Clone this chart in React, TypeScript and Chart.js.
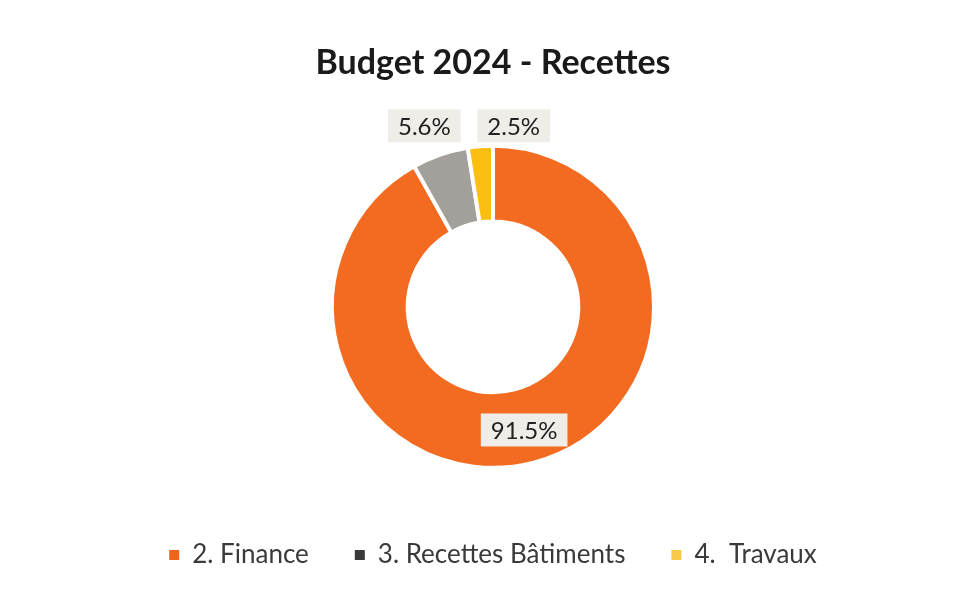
import React, { useEffect, useRef } from "react";
import { Chart, registerables } from "chart.js";

Chart.register(...registerables);

const categories = ["2. Finance", "3. Recettes Bâtiments", "4.  Travaux"];
const shares = [91.5, 5.6, 2.5];
const sliceColors = ["#F36B21", "#A3A09B", "#FDBE12"];
const legendMarkerColors = ["#F0651E", "#3A3A3A", "#F8C94A"];
const valueLabels = ["91.5%", "5.6%", "2.5%"];
const chartTitle = "Budget 2024 - Recettes";

const FONT = "Lato, 'Open Sans', 'DejaVu Sans', sans-serif";

const labelPlugin = {
  id: "valueLabels",
  afterDatasetsDraw(chart: any) {
    const ctx = chart.ctx;
    const meta = chart.getDatasetMeta(0);
    ctx.save();
    ctx.font = `24px ${FONT}`;
    ctx.textAlign = "center";
    ctx.textBaseline = "middle";
    meta.data.forEach((arc: any, i: number) => {
      const p = arc.getProps(["x", "y", "startAngle", "endAngle", "innerRadius", "outerRadius"], true);
      const mid = (p.startAngle + p.endAngle) / 2;
      let cx: number;
      let cy: number;
      if (i === 0) {
        const r = (p.innerRadius + p.outerRadius) / 2;
        cx = p.x + Math.cos(mid) * r;
        cy = p.y + Math.sin(mid) * r + 4;
      } else {
        const r = p.outerRadius + 33;
        cx = p.x + Math.cos(mid) * r + (i === 2 ? 36 : -5);
        cy = p.y - p.outerRadius - 20;
      }
      const text = valueLabels[i];
      const w = ctx.measureText(text).width + 20;
      const h = 33;
      ctx.fillStyle = "#EEEDE8";
      ctx.fillRect(cx - w / 2, cy - h / 2, w, h);
      ctx.fillStyle = "#222222";
      ctx.fillText(text, cx, cy + 1);
    });
    ctx.restore();
  },
};

export default function App() {
  const ref = useRef<HTMLCanvasElement | null>(null);
  useEffect(() => {
    if (!ref.current) return;
    const chart = new Chart(ref.current, {
      type: "doughnut",
      data: {
        labels: categories,
        datasets: [
          {
            data: shares,
            backgroundColor: sliceColors,
            borderColor: "#FFFFFF",
            borderWidth: 4,
            hoverOffset: 0,
          },
        ],
      },
      options: {
        animation: false,
        responsive: true,
        maintainAspectRatio: false,
        cutout: "53%",
        layout: { padding: { left: 26, right: 0, top: 0, bottom: 11 } },
        plugins: {
          tooltip: { enabled: false },
          title: {
            display: true,
            text: chartTitle,
            color: "#1A1A1A",
            font: { family: FONT, size: 34, weight: "bold" },
            padding: { top: 43, bottom: 60 },
          },
          legend: {
            position: "bottom",
            title: {
              display: true,
              text: " ",
              font: { family: FONT, size: 1 },
              padding: { top: 0, bottom: 25 },
            },
            labels: {
              color: "#3A3A3A",
              font: { family: FONT, size: 26 },
              boxWidth: 10,
              boxHeight: 10,
              padding: 46,
              generateLabels: () =>
                categories.map((c, i) => ({
                  text: c,
                  fillStyle: legendMarkerColors[i],
                  strokeStyle: legendMarkerColors[i],
                  lineWidth: 0,
                  hidden: false,
                  index: i,
                  fontColor: "#3A3A3A",
                })),
            },
          },
        },
      },
      plugins: [labelPlugin],
    });
    return () => chart.destroy();
  }, []);
  return (
    <div style={{ position: "fixed", left: 0, top: 0, width: 960, height: 589, background: "#FFFFFF" }}>
      <canvas ref={ref} />
    </div>
  );
}
